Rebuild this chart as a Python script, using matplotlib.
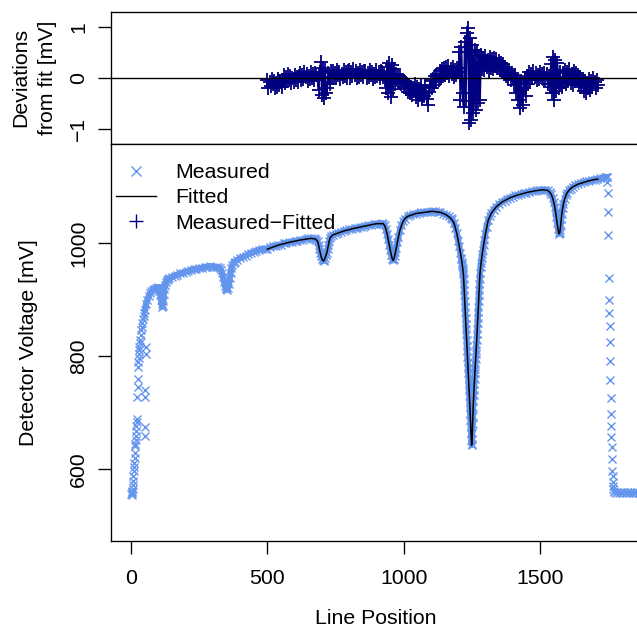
import numpy as np
import matplotlib
matplotlib.use("Agg")
import matplotlib.pyplot as plt
from matplotlib.lines import Line2D

plt.rcParams['font.family'] = ['Liberation Sans', 'DejaVu Sans']
plt.rcParams['axes.unicode_minus'] = True

# ---------------- data ----------------
# measured detector voltage: (line position, mV)
measured_start = [(1, 557), (2, 560), (3, 555), (4, 562), (5, 558), (6, 566), (7, 572), (8, 580),
                  (9, 588), (10, 597), (11, 604), (12, 612), (13, 620), (14, 630), (15, 641), (16, 645),
                  (17, 652), (18, 660), (19, 668), (20, 677), (21, 684), (22, 690), (23, 728), (24, 746),
                  (25, 761), (26, 782), (27, 790), (28, 797), (29, 805), (30, 812), (31, 817), (32, 823),
                  (34, 829), (36, 838), (38, 846), (40, 853), (42, 860), (44, 866), (46, 872), (48, 877),
                  (50, 660), (51, 675), (52, 728), (53, 740), (54, 805), (55, 816)]

measured_curve = [
    (50, 882), (55, 893), (60, 900), (65, 907), (70, 912), (75, 915), (80, 918), (85, 920), (90, 921),
    (95, 922), (100, 923), (103, 921), (106, 915), (108, 908), (110, 900), (112, 892), (114, 888),
    (116, 890), (118, 898), (120, 910), (122, 920), (125, 927), (128, 932), (131, 935), (135, 937),
    (140, 938), (150, 941), (160, 943), (170, 945), (180, 947), (190, 948), (200, 950), (210, 951),
    (220, 953), (230, 954), (240, 955), (250, 956), (260, 957), (270, 958), (280, 959), (290, 960),
    (300, 959), (310, 958), (320, 958), (326, 956), (330, 953), (334, 948), (338, 940), (341, 932),
    (344, 925), (347, 921), (350, 919), (353, 918), (356, 921), (359, 928), (362, 938), (365, 948),
    (368, 956), (372, 962), (376, 966), (380, 968), (390, 971), (400, 974), (410, 976), (420, 978),
    (430, 981), (440, 983), (450, 985), (460, 987), (470, 989), (480, 990), (490, 990), (500, 991),
    (510, 993), (520, 995), (530, 996), (540, 997), (550, 998), (560, 1000), (570, 1001), (580, 1002),
    (590, 1003), (600, 1004), (610, 1005), (620, 1006), (630, 1007), (640, 1008), (650, 1009),
    (660, 1009), (670, 1009), (676, 1008), (680, 1007), (684, 1004), (688, 997), (691, 990),
    (694, 983), (697, 977), (700, 973), (703, 970), (706, 969), (709, 971), (712, 975), (715, 979),
    (718, 983), (721, 990), (724, 997), (727, 1004), (730, 1010), (735, 1013), (740, 1015),
    (750, 1017), (760, 1019), (770, 1020), (780, 1022), (790, 1023), (800, 1025), (810, 1026),
    (820, 1027), (830, 1028), (840, 1029), (850, 1030), (860, 1031), (870, 1032), (880, 1033),
    (890, 1034), (900, 1035), (910, 1035), (920, 1036), (925, 1035), (930, 1032), (935, 1025),
    (939, 1017), (943, 1008), (947, 998), (951, 988), (955, 979), (958, 973), (961, 970), (964, 972),
    (967, 978), (970, 985), (973, 992), (977, 1002), (981, 1012), (986, 1023), (992, 1032),
    (998, 1039), (1005, 1044), (1015, 1048), (1025, 1050), (1035, 1052), (1045, 1053), (1055, 1054),
    (1065, 1055), (1075, 1055), (1085, 1056), (1095, 1056), (1105, 1057), (1115, 1057), (1125, 1056),
    (1135, 1055), (1145, 1053), (1155, 1051), (1165, 1048), (1172, 1045), (1178, 1043), (1184, 1037),
    (1190, 1028), (1195, 1018), (1200, 1005), (1204, 995), (1208, 983), (1211, 975), (1212, 972),
    (1213, 968), (1214, 964), (1215, 960), (1216, 957), (1217, 953), (1218, 950), (1219, 946),
    (1220, 937), (1221, 928), (1222, 918), (1223, 908), (1224, 898), (1225, 888), (1226, 878),
    (1227, 868), (1228, 858), (1229, 848), (1230, 839), (1231, 829), (1232, 819), (1233, 809),
    (1234, 799), (1235, 790), (1236, 780), (1237, 770), (1238, 760), (1239, 750), (1240, 740),
    (1241, 730), (1242, 720), (1243, 711), (1244, 699), (1245, 688), (1246, 676), (1247, 664),
    (1248, 653), (1249, 643), (1250, 645), (1251, 654), (1252, 664), (1253, 680), (1254, 695),
    (1255, 711), (1256, 721), (1257, 731), (1258, 741), (1259, 751), (1260, 760), (1261, 770),
    (1262, 778), (1263, 787), (1264, 795), (1265, 804), (1266, 812), (1267, 821), (1268, 829),
    (1269, 839), (1270, 849), (1271, 859), (1272, 868), (1273, 878), (1274, 888), (1275, 898),
    (1276, 908), (1277, 918), (1278, 928), (1279, 937), (1280, 947), (1282, 958), (1284, 966),
    (1286, 974), (1288, 981), (1290, 988), (1293, 997), (1296, 1006), (1300, 1017), (1304, 1030),
    (1310, 1041), (1316, 1048), (1322, 1054), (1330, 1060), (1340, 1065), (1350, 1070), (1360, 1073),
    (1370, 1076), (1380, 1079), (1390, 1081), (1400, 1083), (1410, 1085), (1420, 1086), (1430, 1088),
    (1440, 1089), (1450, 1090), (1460, 1091), (1470, 1092), (1480, 1093), (1490, 1094), (1500, 1094),
    (1510, 1095), (1520, 1095), (1528, 1094), (1535, 1091), (1541, 1087), (1546, 1081), (1550, 1074),
    (1554, 1065), (1557, 1056), (1560, 1046), (1563, 1036), (1566, 1026), (1568, 1020), (1570, 1017),
    (1572, 1018), (1574, 1024), (1576, 1033), (1578, 1043), (1580, 1052), (1583, 1062), (1586, 1070),
    (1590, 1078), (1595, 1085), (1600, 1090), (1606, 1094), (1612, 1097), (1620, 1100), (1630, 1103),
    (1640, 1105), (1650, 1107), (1660, 1108), (1670, 1110), (1680, 1111), (1690, 1112), (1700, 1113),
    (1710, 1114), (1720, 1115), (1730, 1116), (1740, 1117), (1745, 1118)]

measured_drop = [(1746, 1117), (1747, 1109), (1748, 1090), (1749, 1056), (1750, 1015), (1752, 938),
                 (1753, 900), (1754, 877), (1755, 854), (1756, 826), (1757, 792), (1758, 758),
                 (1759, 727), (1760, 699), (1761, 677), (1762, 657), (1763, 640), (1764, 618),
                 (1765, 598), (1766, 588), (1767, 578), (1768, 570), (1769, 565), (1770, 562)]

measured_flat = [(1772, 560), (1778, 559), (1784, 560), (1790, 559), (1796, 560), (1802, 559),
                 (1808, 560), (1814, 559), (1820, 560), (1826, 559), (1832, 560), (1838, 559),
                 (1844, 560), (1850, 559), (1856, 560), (1862, 559), (1868, 560), (1874, 559),
                 (1880, 560)]

# fitted curve: (line position, mV)
fitted = [
    (500, 990), (540, 997), (580, 1002), (620, 1006), (660, 1009), (676, 1008), (684, 1004),
    (688, 997), (691, 990), (694, 983), (697, 977), (700, 973), (703, 970), (706, 969), (709, 971),
    (712, 975), (715, 979), (718, 983), (721, 990), (724, 997), (727, 1004), (730, 1010), (740, 1015),
    (780, 1022), (820, 1027), (860, 1031), (900, 1035), (925, 1035), (930, 1032), (935, 1025),
    (939, 1017), (943, 1008), (947, 998), (951, 988), (955, 979), (958, 973), (961, 970), (964, 972),
    (967, 978), (970, 985), (973, 992), (977, 1002), (981, 1012), (986, 1023), (992, 1032),
    (998, 1039), (1005, 1044), (1015, 1048), (1045, 1053), (1075, 1055), (1105, 1057), (1135, 1055),
    (1155, 1051), (1172, 1045), (1184, 1037), (1195, 1018), (1204, 995), (1211, 975), (1215, 962),
    (1219, 946), (1222, 918), (1225, 888), (1228, 858), (1231, 829), (1234, 799), (1237, 770),
    (1240, 740), (1243, 711), (1245, 688), (1247, 664), (1249, 643), (1250, 645), (1251, 654),
    (1253, 680), (1255, 711), (1258, 741), (1261, 770), (1264, 795), (1268, 829), (1271, 859),
    (1274, 888), (1277, 918), (1280, 947), (1284, 966), (1288, 981), (1293, 997), (1300, 1017),
    (1310, 1041), (1322, 1054), (1340, 1065), (1360, 1073), (1390, 1081), (1420, 1086), (1450, 1090),
    (1480, 1093), (1510, 1095), (1528, 1094), (1535, 1091), (1541, 1087), (1546, 1081), (1550, 1074),
    (1554, 1065), (1557, 1056), (1560, 1046), (1563, 1036), (1566, 1026), (1568, 1020), (1570, 1017),
    (1572, 1018), (1574, 1024), (1576, 1033), (1578, 1043), (1580, 1052), (1583, 1062), (1586, 1070),
    (1590, 1078), (1595, 1085), (1600, 1090), (1606, 1094), (1612, 1097), (1620, 1100), (1640, 1105),
    (1660, 1108), (1680, 1111), (1700, 1113), (1712, 1114)]

# deviations from fit (mV), sampled every 4 line positions from 500
dev_start, dev_step = 500, 4
dev_values = [
    -0.04, -0.19, -0.08, -0.16, -0.02, -0.13, -0.06, -0.20, -0.10, -0.17, -0.03, -0.14, -0.07, -0.18, -0.05,
    0.05, -0.10, 0.01, -0.07, 0.07, -0.04, 0.03, -0.11, -0.01, -0.08, 0.06, -0.05, 0.02, -0.09, 0.04,
    0.10, -0.05, 0.06, -0.02, 0.12, 0.01, 0.08, -0.06, 0.04, -0.03, 0.11, 0.00, 0.07, -0.04, 0.09,
    0.06, -0.04, -0.24, 0.12, 0.31, -0.34, 0.20, -0.40, 0.15, -0.30, -0.20, 0.10, -0.12, 0.14, 0.02,
    0.14, -0.01, 0.10, 0.02, 0.16, 0.05, 0.12, -0.02, 0.08, 0.01, 0.15, 0.04, 0.11, 0.00, 0.13,
    0.15, 0.00, 0.11, 0.03, 0.17, 0.06, 0.13, -0.01, 0.09, 0.02, 0.16, 0.05, 0.12, 0.01, 0.14,
    0.14, -0.01, 0.10, 0.02, 0.16, 0.05, 0.12, -0.02, 0.08, 0.01, 0.15, 0.04, 0.11, 0.00, 0.13,
    0.12, 0.02, 0.10, -0.04, -0.20, 0.22, -0.29, 0.30, -0.38, 0.25, -0.21, 0.18, -0.12, 0.08, -0.05,
    0.06, -0.08, 0.02, -0.12, -0.04, -0.18, -0.08, -0.22, -0.12, -0.27, -0.16, -0.30, -0.18, -0.34, -0.20,
    -0.12, -0.38, -0.18, -0.44, -0.22, -0.33, -0.14, -0.40, -0.25, -0.36, -0.16, -0.42, -0.54, -0.28, -0.18,
    -0.06, -0.20, -0.02, -0.14, 0.04, -0.08, 0.08, -0.04, 0.14, 0.00, 0.18, 0.04, 0.20, 0.06, 0.22,
    0.10, 0.24, 0.04, 0.18, 0.08, 0.22, 0.02, 0.16, 0.06, 0.20, 0.12, 0.51, -0.43, 0.60, -0.30,
    -0.57, 0.70, -0.45, 0.87, 0.98, -0.88, 0.79, -0.82, 0.65, -0.69, 0.55, -0.63, 0.50, -0.50, 0.42,
    -0.43, 0.45, 0.18, 0.38, 0.16, 0.42, 0.22, 0.34, 0.14, 0.40, 0.20, 0.36, 0.17, 0.39, 0.23,
    0.36, 0.20, 0.33, 0.15, 0.30, 0.12, 0.27, 0.08, 0.22, 0.04, 0.18, 0.00, 0.14, -0.04, 0.10,
    0.02, -0.14, 0.06, -0.30, -0.05, -0.43, -0.12, -0.60, -0.08, -0.53, -0.20, 0.00, -0.35, 0.04, -0.12,
    0.11, -0.04, 0.07, -0.01, 0.13, 0.02, 0.09, -0.05, 0.05, -0.02, 0.12, 0.01, 0.08, -0.03, 0.10,
    -0.02, 0.08, -0.12, 0.04, -0.18, 0.28, -0.30, 0.40, -0.43, 0.35, -0.25, 0.30, -0.20, 0.12, -0.10,
    -0.18, 0.10, -0.08, 0.16, -0.12, 0.12, -0.04, 0.18, -0.10, 0.08, -0.14, 0.14, -0.06, 0.10, -0.02,
    0.06, -0.12, 0.02, -0.18, -0.02, -0.26, -0.06, -0.30, -0.10, -0.20, -0.02, -0.24, -0.06, -0.16, 0.00,
    -0.08, -0.20, -0.04, -0.14]

x_ticks = [0, 500, 1000, 1500]
y_ticks_main = [600, 800, 1000]
y_ticks_dev = [-1, 0, 1]
legend_labels = ['Measured', 'Fitted', 'Measured\u2212Fitted']

# ---------------- figure ----------------
W, H = 637, 633
fig = plt.figure(figsize=(W / 100, H / 100), dpi=100)
left_px, right_px = 111.4, 641.4
L = left_px / W
Wd = (right_px - left_px) / W
ax_top = fig.add_axes([L, 1 - 144.0 / H, Wd, 132.3 / H])
ax = fig.add_axes([L, 1 - 540.7 / H, Wd, 396.7 / H])

blue = '#6495ED'
navy = '#000080'
FS = 15.3
lw_axis = 0.96

meas = measured_start + measured_curve + measured_drop + measured_flat
mx = [p[0] for p in meas]
mv = [p[1] for p in meas]
cx = [p[0] for p in measured_curve]
cv = [p[1] for p in measured_curve]
# dense measured band (points overlap into a continuous band)
ax.plot(cx, cv, color=blue, lw=4.4, solid_joinstyle='round', solid_capstyle='round', zorder=1)
ax.plot(mx, mv, linestyle='none', marker='x', markersize=5.2, markeredgewidth=1.0,
        color=blue, zorder=2)
fx = [p[0] for p in fitted]
fv = [p[1] for p in fitted]
ax.plot(fx, fv, color='black', lw=1.1, zorder=3)

ax.set_xlim(-72, 1872)
ax.set_ylim(474, 1176)
ax.set_xticks(x_ticks)
ax.set_xticklabels([str(t) for t in x_ticks])
ax.set_yticks(y_ticks_main)
ax.set_yticklabels([str(t) for t in y_ticks_main])

dev_x = [dev_start + i * dev_step for i in range(len(dev_values))]
# dense deviation band: the many overlapping points fill in between their values
ax_top.plot(dev_x, dev_values, color=navy, lw=1.3, zorder=2)
ax_top.plot(dev_x, dev_values, linestyle='none', marker='+', markersize=9.8,
            markeredgewidth=1.3, color=navy, zorder=2)
ax_top.axhline(0, color='black', lw=1.0, zorder=3)
ax_top.set_xlim(-72, 1872)
ax_top.set_ylim(-1.296, 1.296)
ax_top.set_yticks(y_ticks_dev)
ax_top.set_yticklabels(['\u22121', '0', '1'])
ax_top.tick_params(axis='x', bottom=False, labelbottom=False)

for a in (ax, ax_top):
    for s in a.spines.values():
        s.set_linewidth(lw_axis)
    a.tick_params(direction='out', length=9.2, width=lw_axis, labelsize=FS)
    a.tick_params(axis='y', labelrotation=90, pad=7.5)
    for lab in a.get_yticklabels():
        lab.set_va('center')
ax.tick_params(axis='x', pad=11)

handles = [Line2D([], [], linestyle='none', marker='x', markersize=7.9, markeredgewidth=1.0, color=blue),
           Line2D([], [], color='black', lw=1.0),
           Line2D([], [], linestyle='none', marker='+', markersize=10, markeredgewidth=1.0, color=navy)]
ax.legend(handles, legend_labels, loc='upper left', bbox_to_anchor=(0.0095, 0.952),
          frameon=False, borderpad=0, borderaxespad=0, handlelength=1.85,
          handletextpad=0.94, labelspacing=0.30, fontsize=FS)

fig.text(376 / W, 1 - 619 / H, 'Line Position', ha='center', va='center', fontsize=FS)
fig.text(29 / W, 1 - 342.3 / H, 'Detector Voltage [mV]', ha='center', va='center',
         rotation=90, fontsize=FS)
fig.text(20.5 / W, 1 - 77.85 / H, 'Deviations', ha='center', va='center', rotation=90, fontsize=FS)
fig.text(48 / W, 1 - 77.85 / H, 'from fit [mV]', ha='center', va='center', rotation=90, fontsize=FS)

fig.savefig('out.png', dpi=100)
